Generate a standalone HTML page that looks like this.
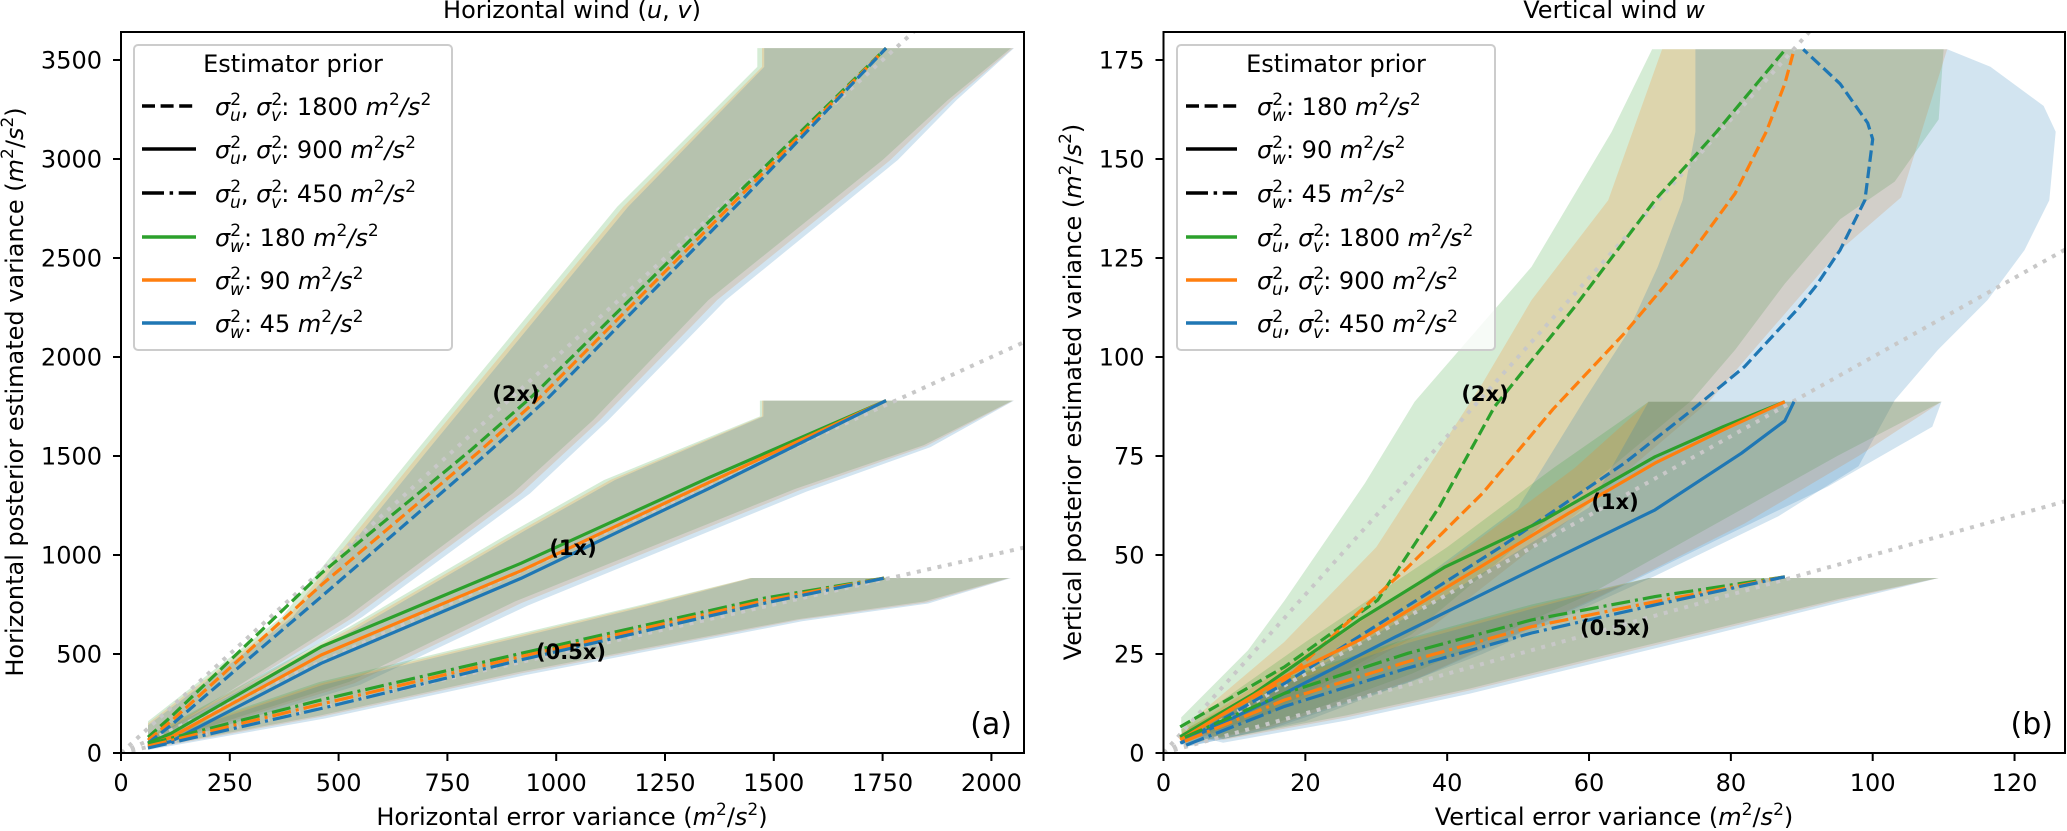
<!DOCTYPE html>
<html><head><meta charset="utf-8"><style>
html,body{margin:0;padding:0;background:#fff;}
svg{display:block;font-family:"DejaVu Sans","Liberation Sans",sans-serif;}
</style></head><body>
<svg id="fig" width="2067" height="831" viewBox="0 0 2067 831" xmlns="http://www.w3.org/2000/svg">
<defs>
<clipPath id="clipH"><rect x="121" y="32" width="903" height="721"/></clipPath>
<clipPath id="clipV"><rect x="1163.5" y="32" width="901.5" height="721"/></clipPath>
</defs>
<rect width="2067" height="831" fill="#fff"/>
<g id="plotH" clip-path="url(#clipH)"></g>
<g id="plotV" clip-path="url(#clipV)"></g>
<g id="axesH"></g>
<g id="axesV"></g>

<text x="572" y="18" font-size="24" text-anchor="middle">Horizontal wind (<tspan font-style="italic">u</tspan>, <tspan font-style="italic">v</tspan>)</text>
<text x="1614" y="18" font-size="24" text-anchor="middle">Vertical wind <tspan font-style="italic">w</tspan></text>

<text x="572" y="825" font-size="24" text-anchor="middle">Horizontal error variance (<tspan font-style="italic">m</tspan><tspan font-size="17" dy="-10">2</tspan><tspan dy="10">/</tspan><tspan font-style="italic">s</tspan><tspan font-size="17" dy="-10">2</tspan><tspan dy="10">)</tspan></text>
<text x="1614" y="825" font-size="24" text-anchor="middle">Vertical error variance (<tspan font-style="italic">m</tspan><tspan font-size="17" dy="-10">2</tspan><tspan dy="10">/</tspan><tspan font-style="italic">s</tspan><tspan font-size="17" dy="-10">2</tspan><tspan dy="10">)</tspan></text>
<text transform="translate(23,392) rotate(-90)" font-size="24" text-anchor="middle">Horizontal posterior estimated variance (<tspan font-style="italic">m</tspan><tspan font-size="17" dy="-10">2</tspan><tspan dy="10">/</tspan><tspan font-style="italic">s</tspan><tspan font-size="17" dy="-10">2</tspan><tspan dy="10">)</tspan></text>
<text transform="translate(1081,392) rotate(-90)" font-size="24" text-anchor="middle">Vertical posterior estimated variance (<tspan font-style="italic">m</tspan><tspan font-size="17" dy="-10">2</tspan><tspan dy="10">/</tspan><tspan font-style="italic">s</tspan><tspan font-size="17" dy="-10">2</tspan><tspan dy="10">)</tspan></text>

<text x="1012" y="734" font-size="30" text-anchor="end">(a)</text>
<text x="2053" y="734" font-size="30" text-anchor="end">(b)</text>

<g font-size="21" font-weight="bold" text-anchor="middle">
<text x="516" y="401">(2x)</text>
<text x="573" y="555">(1x)</text>
<text x="571" y="659">(0.5x)</text>
<text x="1485" y="401">(2x)</text>
<text x="1615" y="509">(1x)</text>
<text x="1615" y="635">(0.5x)</text>
</g>

<g>
<rect x="134" y="45" width="318" height="305" rx="4" fill="#fff" fill-opacity="0.8" stroke="#cccccc" stroke-width="2"/>
<text x="293" y="72" font-size="24" text-anchor="middle">Estimator prior</text>
<g stroke-width="3.5" fill="none">
<line x1="142" y1="106" x2="196" y2="106" stroke="#000" stroke-dasharray="13,5.6"/>
<line x1="142" y1="149" x2="196" y2="149" stroke="#000"/>
<line x1="142" y1="193" x2="196" y2="193" stroke="#000" stroke-dasharray="22,5.6,3.5,5.6"/>
<line x1="142" y1="237" x2="196" y2="237" stroke="#2ca02c"/>
<line x1="142" y1="280" x2="196" y2="280" stroke="#ff7f0e"/>
<line x1="142" y1="323" x2="196" y2="323" stroke="#1f77b4"/>
</g>
<g font-size="24">
<text x="215" y="115"><tspan font-style="italic">σ</tspan><tspan font-size="17" dy="-10">2</tspan><tspan font-size="17" font-style="italic" dx="-11" dy="16">u</tspan><tspan dy="-6">, </tspan><tspan font-style="italic">σ</tspan><tspan font-size="17" dy="-10">2</tspan><tspan font-size="17" font-style="italic" dx="-11" dy="16">v</tspan><tspan dy="-6">: 1800 </tspan><tspan font-style="italic">m</tspan><tspan font-size="17" dy="-10">2</tspan><tspan dy="10" font-style="italic">/s</tspan><tspan font-size="17" dy="-10">2</tspan></text>
<text x="215" y="158"><tspan font-style="italic">σ</tspan><tspan font-size="17" dy="-10">2</tspan><tspan font-size="17" font-style="italic" dx="-11" dy="16">u</tspan><tspan dy="-6">, </tspan><tspan font-style="italic">σ</tspan><tspan font-size="17" dy="-10">2</tspan><tspan font-size="17" font-style="italic" dx="-11" dy="16">v</tspan><tspan dy="-6">: 900 </tspan><tspan font-style="italic">m</tspan><tspan font-size="17" dy="-10">2</tspan><tspan dy="10" font-style="italic">/s</tspan><tspan font-size="17" dy="-10">2</tspan></text>
<text x="215" y="202"><tspan font-style="italic">σ</tspan><tspan font-size="17" dy="-10">2</tspan><tspan font-size="17" font-style="italic" dx="-11" dy="16">u</tspan><tspan dy="-6">, </tspan><tspan font-style="italic">σ</tspan><tspan font-size="17" dy="-10">2</tspan><tspan font-size="17" font-style="italic" dx="-11" dy="16">v</tspan><tspan dy="-6">: 450 </tspan><tspan font-style="italic">m</tspan><tspan font-size="17" dy="-10">2</tspan><tspan dy="10" font-style="italic">/s</tspan><tspan font-size="17" dy="-10">2</tspan></text>
<text x="215" y="246"><tspan font-style="italic">σ</tspan><tspan font-size="17" dy="-10">2</tspan><tspan font-size="17" font-style="italic" dx="-11" dy="16">w</tspan><tspan dy="-6">: 180 </tspan><tspan font-style="italic">m</tspan><tspan font-size="17" dy="-10">2</tspan><tspan dy="10" font-style="italic">/s</tspan><tspan font-size="17" dy="-10">2</tspan></text>
<text x="215" y="289"><tspan font-style="italic">σ</tspan><tspan font-size="17" dy="-10">2</tspan><tspan font-size="17" font-style="italic" dx="-11" dy="16">w</tspan><tspan dy="-6">: 90 </tspan><tspan font-style="italic">m</tspan><tspan font-size="17" dy="-10">2</tspan><tspan dy="10" font-style="italic">/s</tspan><tspan font-size="17" dy="-10">2</tspan></text>
<text x="215" y="332"><tspan font-style="italic">σ</tspan><tspan font-size="17" dy="-10">2</tspan><tspan font-size="17" font-style="italic" dx="-11" dy="16">w</tspan><tspan dy="-6">: 45 </tspan><tspan font-style="italic">m</tspan><tspan font-size="17" dy="-10">2</tspan><tspan dy="10" font-style="italic">/s</tspan><tspan font-size="17" dy="-10">2</tspan></text>
</g>
</g>

<g>
<rect x="1177" y="45" width="318" height="305" rx="4" fill="#fff" fill-opacity="0.8" stroke="#cccccc" stroke-width="2"/>
<text x="1336" y="72" font-size="24" text-anchor="middle">Estimator prior</text>
<g stroke-width="3.5" fill="none">
<line x1="1186" y1="106" x2="1237" y2="106" stroke="#000" stroke-dasharray="13,5.6"/>
<line x1="1186" y1="149" x2="1237" y2="149" stroke="#000"/>
<line x1="1186" y1="193" x2="1237" y2="193" stroke="#000" stroke-dasharray="22,5.6,3.5,5.6"/>
<line x1="1186" y1="237" x2="1237" y2="237" stroke="#2ca02c"/>
<line x1="1186" y1="280" x2="1237" y2="280" stroke="#ff7f0e"/>
<line x1="1186" y1="323" x2="1237" y2="323" stroke="#1f77b4"/>
</g>
<g font-size="24">
<text x="1257" y="115"><tspan font-style="italic">σ</tspan><tspan font-size="17" dy="-10">2</tspan><tspan font-size="17" font-style="italic" dx="-11" dy="16">w</tspan><tspan dy="-6">: 180 </tspan><tspan font-style="italic">m</tspan><tspan font-size="17" dy="-10">2</tspan><tspan dy="10" font-style="italic">/s</tspan><tspan font-size="17" dy="-10">2</tspan></text>
<text x="1257" y="158"><tspan font-style="italic">σ</tspan><tspan font-size="17" dy="-10">2</tspan><tspan font-size="17" font-style="italic" dx="-11" dy="16">w</tspan><tspan dy="-6">: 90 </tspan><tspan font-style="italic">m</tspan><tspan font-size="17" dy="-10">2</tspan><tspan dy="10" font-style="italic">/s</tspan><tspan font-size="17" dy="-10">2</tspan></text>
<text x="1257" y="202"><tspan font-style="italic">σ</tspan><tspan font-size="17" dy="-10">2</tspan><tspan font-size="17" font-style="italic" dx="-11" dy="16">w</tspan><tspan dy="-6">: 45 </tspan><tspan font-style="italic">m</tspan><tspan font-size="17" dy="-10">2</tspan><tspan dy="10" font-style="italic">/s</tspan><tspan font-size="17" dy="-10">2</tspan></text>
<text x="1257" y="246"><tspan font-style="italic">σ</tspan><tspan font-size="17" dy="-10">2</tspan><tspan font-size="17" font-style="italic" dx="-11" dy="16">u</tspan><tspan dy="-6">, </tspan><tspan font-style="italic">σ</tspan><tspan font-size="17" dy="-10">2</tspan><tspan font-size="17" font-style="italic" dx="-11" dy="16">v</tspan><tspan dy="-6">: 1800 </tspan><tspan font-style="italic">m</tspan><tspan font-size="17" dy="-10">2</tspan><tspan dy="10" font-style="italic">/s</tspan><tspan font-size="17" dy="-10">2</tspan></text>
<text x="1257" y="289"><tspan font-style="italic">σ</tspan><tspan font-size="17" dy="-10">2</tspan><tspan font-size="17" font-style="italic" dx="-11" dy="16">u</tspan><tspan dy="-6">, </tspan><tspan font-style="italic">σ</tspan><tspan font-size="17" dy="-10">2</tspan><tspan font-size="17" font-style="italic" dx="-11" dy="16">v</tspan><tspan dy="-6">: 900 </tspan><tspan font-style="italic">m</tspan><tspan font-size="17" dy="-10">2</tspan><tspan dy="10" font-style="italic">/s</tspan><tspan font-size="17" dy="-10">2</tspan></text>
<text x="1257" y="332"><tspan font-style="italic">σ</tspan><tspan font-size="17" dy="-10">2</tspan><tspan font-size="17" font-style="italic" dx="-11" dy="16">u</tspan><tspan dy="-6">, </tspan><tspan font-style="italic">σ</tspan><tspan font-size="17" dy="-10">2</tspan><tspan font-size="17" font-style="italic" dx="-11" dy="16">v</tspan><tspan dy="-6">: 450 </tspan><tspan font-style="italic">m</tspan><tspan font-size="17" dy="-10">2</tspan><tspan dy="10" font-style="italic">/s</tspan><tspan font-size="17" dy="-10">2</tspan></text>
</g>
</g>
</svg>
<script>
const hXTicks = [0,250,500,750,1000,1250,1500,1750,2000];
const hYTicks = [0,500,1000,1500,2000,2500,3000,3500];
const vXTicks = [0,20,40,60,80,100,120];
const vYTicks = [0,25,50,75,100,125,150,175];
const refSlopes = [2,1,0.5];

// horizontal lines
const h2xGreen = [[62,80],[115,183],[460,907],[804,1530],[944,1800],[1400,2790],[1758,3560]];
const h2xOrange = [[62,65],[115,160],[460,848],[827,1530],[962,1795],[1415,2795],[1758,3560]];
const h2xBlue = [[62,50],[115,140],[460,789],[850,1530],[980,1790],[1430,2800],[1758,3560]];
const h1xGreen = [[62,50],[115,99],[460,537],[919,958],[1350,1390],[1758,1780]];
const h1xOrange = [[62,40],[115,80],[460,495],[919,920],[1350,1365],[1758,1780]];
const h1xBlue = [[62,30],[115,58],[460,453],[919,882],[1350,1335],[1758,1780]];
const h05Green = [[62,45],[460,268],[919,503],[1480,783],[1758,885]];
const h05Orange = [[62,35],[460,247],[919,487],[1480,770],[1758,885]];
const h05Blue = [[62,25],[460,225],[919,470],[1480,757],[1758,885]];

// horizontal bands
const h2xBandGreenUp = [[62,160],[370,688],[680,1530],[1140,2758],[1462,3465],[1462,3560]];
const h2xBandGreenLo = [[62,50],[520,688],[900,1311],[1085,1682],[1350,2288],[1750,2995],[1900,3298],[2045,3560]];
const h2xBandOrangeUp = [[62,150],[383,688],[693,1530],[1154,2758],[1473,3465],[1473,3560]];
const h2xBandOrangeLo = [[62,40],[536,688],[919,1311],[1101,1682],[1370,2288],[1768,2995],[1910,3298],[2050,3560]];
const h2xBandBlueUp = [[62,140],[395,688],[705,1530],[1165,2758],[1478,3465],[1478,3560]];
const h2xBandBlueLo = [[62,30],[555,688],[940,1311],[1120,1682],[1390,2288],[1785,2995],[1920,3298],[2052,3560]];
const h1xBandGreenUp = [[62,85],[525,638],[905,1126],[1110,1379],[1468,1700],[1468,1780]];
const h1xBandGreenLo = [[62,35],[525,360],[905,765],[1550,1335],[1845,1555],[2048,1780]];
const h1xBandOrangeUp = [[62,80],[536,638],[919,1126],[1124,1379],[1473,1700],[1473,1780]];
const h1xBandOrangeLo = [[62,30],[536,352],[919,756],[1560,1328],[1850,1550],[2050,1780]];
const h1xBandBlueUp = [[62,70],[548,638],[930,1126],[1135,1379],[1476,1700],[1476,1780]];
const h1xBandBlueLo = [[62,20],[550,345],[935,745],[1575,1320],[1860,1545],[2052,1780]];
const h05BandGreenUp = [[62,65],[455,358],[910,600],[1195,748],[1446,884]];
const h05BandGreenLo = [[62,25],[455,188],[910,407],[1555,676],[1845,765],[2040,884]];
const h05BandOrangeUp = [[62,60],[460,352],[919,596],[1200,745],[1446,884]];
const h05BandOrangeLo = [[62,20],[460,183],[919,402],[1560,672],[1850,760],[2043,884]];
const h05BandBlueUp = [[62,55],[465,345],[925,590],[1205,740],[1450,884]];
const h05BandBlueLo = [[62,15],[470,175],[930,394],[1565,665],[1855,755],[2045,884]];

// vertical lines
const v2xGreen = [[2.35,6.6],[17.1,21.8],[30.2,38.6],[38.9,62.2],[46.7,87.5],[58,112.7],[69.3,139.6],[78,156.9],[87.6,177.5]];
const v2xOrange = [[2.35,3.8],[17.1,18.4],[34.5,47],[45,65.6],[54.9,86.8],[65,106],[73.7,124.5],[80.6,141.3],[85,156.9],[87.6,169],[88.9,177.5]];
const v2xBlue = [[2.5,2.5],[17.1,17.6],[32.8,35.3],[47.6,52.1],[65,73.2],[74.5,86.6],[81.9,97.5],[89.3,111.9],[91.9,117.7],[95.4,127],[98.9,139.6],[100,155],[99.3,159.1],[95.4,169],[90.2,177.7]];
const v1xGreen = [[2.35,4.1],[12.8,15.1],[27.6,33.6],[39.7,47],[53.6,58.8],[69.3,74.8],[78.9,82.4],[87.6,88.7]];
const v1xOrange = [[2.35,3.3],[17.1,19.3],[27.6,28.5],[43.2,45.4],[57.1,60.5],[69.3,73.2],[78.9,81.6],[87.6,88.7]];
const v1xBlue = [[2.35,2.5],[17.1,15.1],[32.8,29.4],[51.9,46.2],[69.3,61.4],[81.5,75.7],[87.6,83.9],[88.9,88.7]];
const v05Green = [[3,4],[17.1,15.1],[34.5,25.2],[51.9,33.6],[69.3,39.5],[87.6,44.5]];
const v05Orange = [[3,3],[17.1,13.4],[34.5,23.1],[51.9,31.9],[69.3,38.2],[87.6,44.5]];
const v05Blue = [[3.2,2],[17.1,11.8],[34.5,21.5],[51.9,30.3],[69.3,37.4],[87.6,44.5]];

// vertical bands
const v2xBandGreenUp = [[2.5,9],[11.9,25.9],[17.1,38.6],[28.4,68.1],[35.4,88.7],[51.9,122.8],[63.2,156.9],[68.9,177.7]];
const v2xBandGreenLo = [[2.5,3],[15,10],[35,30],[55,60],[74.5,89.1],[80.6,101.8],[87.6,118.5],[95.4,134.8],[103.1,144.3],[109.3,160],[110,177.7]];
const v2xBandOrangeUp = [[2.5,6],[17,28],[30,52],[45,93.4],[51.9,114.4],[62.7,139.6],[70.3,177.7]];
const v2xBandOrangeLo = [[3,2.5],[18,12],[38,32],[58,60],[77.1,89.1],[83.2,101.8],[89.3,114.4],[95.4,127],[104,140.3],[110.5,177.7]];
const v2xBandBlueUp = [[2.5,4],[17,20],[35,42],[50,62],[59.3,89.1],[65.4,106],[69.7,122.8],[73.2,139.6],[75,156.9],[75,177.7]];
const v2xBandBlueLo = [[3,1.5],[20,8],[45,25],[69.3,44.7],[86.7,59.8],[98,72.4],[103.1,89.1],[109.2,101.8],[116.2,114.4],[121.4,127],[124.9,139.6],[125.8,156.9],[124.1,163.4],[116.6,173.3],[110.5,177.7]];
const v1xBandGreenUp = [[2.5,6],[20,28],[40,52],[55,72],[68.4,88.7]];
const v1xBandGreenLo = [[3,2],[15,7],[35,20],[60,40],[80,60],[95,75],[109.7,88.7]];
const v1xBandOrangeUp = [[2.5,5],[20,25],[40,48],[58,72],[68.4,88.7]];
const v1xBandOrangeLo = [[3,2],[15,6.5],[36,19],[62,40],[82,58],[98,75],[109.7,88.7]];
const v1xBandBlueUp = [[2.5,3],[20,20],[40,40],[60,62],[68.4,88.7]];
const v1xBandBlueLo = [[3,1.5],[15,6],[35,18],[60,38],[78,53.8],[93.7,67.3],[108.4,82.4],[109.7,88.7]];
const v05BandGreenUp = [[3.2,6.2],[17.1,19],[34.5,29],[51.9,37.5],[68.4,44.2]];
const v05BandGreenLo = [[8.4,3.6],[25.8,9.5],[43.2,16.3],[60.6,24],[78,31.5],[95.4,39],[109.3,44.2]];
const v05BandOrangeUp = [[3.2,5.8],[17.1,18.5],[34.5,28.6],[51.9,37],[68.4,44.2]];
const v05BandOrangeLo = [[8.4,3.3],[25.8,9],[43.2,15.8],[60.6,23.4],[78,31],[95.4,38.6],[109.3,44.2]];
const v05BandBlueUp = [[3.2,5],[17.1,17.5],[34.5,27.8],[51.9,36.4],[68.4,44.2]];
const v05BandBlueLo = [[8.4,2.6],[25.8,8.2],[43.2,15],[60.6,22.6],[78,30.2],[95.4,38],[109.3,44.2]];

const NS = "http://www.w3.org/2000/svg";
const GREEN = "#2ca02c", ORANGE = "#ff7f0e", BLUE = "#1f77b4";
const hx = x => 121 + x * 0.4352;
const hy = y => 753 - y * 0.198;
const vx = x => 1163.5 + x * 7.092;
const vy = y => 753 - y * 3.96;

function mk(tag, attrs, parent) {
  const e = document.createElementNS(NS, tag);
  for (const k in attrs) e.setAttribute(k, attrs[k]);
  parent.appendChild(e);
  return e;
}
function pts(arr, fx, fy) { return arr.map(p => fx(p[0]).toFixed(1) + "," + fy(p[1]).toFixed(1)).join(" "); }
function band(parent, up, lo, color, fx, fy, name) {
  const poly = up.concat(lo.slice().reverse());
  const e = mk("polygon", {points: pts(poly, fx, fy), fill: color, "fill-opacity": 0.2, stroke: "none"}, parent);
  
  
}
function line(parent, arr, color, dash, fx, fy, name) {
  const a = {points: pts(arr, fx, fy), fill: "none", stroke: color, "stroke-width": 3.2, "stroke-linejoin": "round"};
  if (dash) a["stroke-dasharray"] = dash;
  const e = mk("polyline", a, parent);
  
  
}
function refLines(parent, fx, fy, xmax) {
  refSlopes.forEach(k => {
    const e = mk("line", {x1: fx(0), y1: fy(0), x2: fx(xmax), y2: fy(k * xmax), stroke: "#c8c8c8", "stroke-width": 4, "stroke-dasharray": "4,6.6"}, parent);
    
    
  });
}
const DASH = "11.5,5", DASHDOT = "19,5,3,5";

const pH = document.getElementById("plotH");
band(pH, h2xBandGreenUp, h2xBandGreenLo, GREEN, hx, hy, "band-2x-green");
band(pH, h2xBandOrangeUp, h2xBandOrangeLo, ORANGE, hx, hy, "band-2x-orange");
band(pH, h2xBandBlueUp, h2xBandBlueLo, BLUE, hx, hy, "band-2x-blue");
band(pH, h1xBandGreenUp, h1xBandGreenLo, GREEN, hx, hy, "band-1x-green");
band(pH, h1xBandOrangeUp, h1xBandOrangeLo, ORANGE, hx, hy, "band-1x-orange");
band(pH, h1xBandBlueUp, h1xBandBlueLo, BLUE, hx, hy, "band-1x-blue");
band(pH, h05BandGreenUp, h05BandGreenLo, GREEN, hx, hy, "band-05x-green");
band(pH, h05BandOrangeUp, h05BandOrangeLo, ORANGE, hx, hy, "band-05x-orange");
band(pH, h05BandBlueUp, h05BandBlueLo, BLUE, hx, hy, "band-05x-blue");
refLines(pH, hx, hy, 2200);
line(pH, h2xGreen, GREEN, DASH, hx, hy, "line-2x-green");
line(pH, h2xOrange, ORANGE, DASH, hx, hy, "line-2x-orange");
line(pH, h2xBlue, BLUE, DASH, hx, hy, "line-2x-blue");
line(pH, h1xGreen, GREEN, null, hx, hy, "line-1x-green");
line(pH, h1xOrange, ORANGE, null, hx, hy, "line-1x-orange");
line(pH, h1xBlue, BLUE, null, hx, hy, "line-1x-blue");
line(pH, h05Green, GREEN, DASHDOT, hx, hy, "line-05x-green");
line(pH, h05Orange, ORANGE, DASHDOT, hx, hy, "line-05x-orange");
line(pH, h05Blue, BLUE, DASHDOT, hx, hy, "line-05x-blue");

const pV = document.getElementById("plotV");
band(pV, v2xBandGreenUp, v2xBandGreenLo, GREEN, vx, vy, "band-2x-green");
band(pV, v2xBandOrangeUp, v2xBandOrangeLo, ORANGE, vx, vy, "band-2x-orange");
band(pV, v2xBandBlueUp, v2xBandBlueLo, BLUE, vx, vy, "band-2x-blue");
band(pV, v1xBandGreenUp, v1xBandGreenLo, GREEN, vx, vy, "band-1x-green");
band(pV, v1xBandOrangeUp, v1xBandOrangeLo, ORANGE, vx, vy, "band-1x-orange");
band(pV, v1xBandBlueUp, v1xBandBlueLo, BLUE, vx, vy, "band-1x-blue");
band(pV, v05BandGreenUp, v05BandGreenLo, GREEN, vx, vy, "band-05x-green");
band(pV, v05BandOrangeUp, v05BandOrangeLo, ORANGE, vx, vy, "band-05x-orange");
band(pV, v05BandBlueUp, v05BandBlueLo, BLUE, vx, vy, "band-05x-blue");
refLines(pV, vx, vy, 130);
line(pV, v2xGreen, GREEN, DASH, vx, vy, "line-2x-green");
line(pV, v2xOrange, ORANGE, DASH, vx, vy, "line-2x-orange");
line(pV, v2xBlue, BLUE, DASH, vx, vy, "line-2x-blue");
line(pV, v1xGreen, GREEN, null, vx, vy, "line-1x-green");
line(pV, v1xOrange, ORANGE, null, vx, vy, "line-1x-orange");
line(pV, v1xBlue, BLUE, null, vx, vy, "line-1x-blue");
line(pV, v05Green, GREEN, DASHDOT, vx, vy, "line-05x-green");
line(pV, v05Orange, ORANGE, DASHDOT, vx, vy, "line-05x-orange");
line(pV, v05Blue, BLUE, DASHDOT, vx, vy, "line-05x-blue");

function axes(g, x0, x1, y0, y1, xt, yt, fx, fy) {
  const fr = mk("rect", {x: x0, y: y0, width: x1 - x0, height: y1 - y0, fill: "none", stroke: "#000", "stroke-width": 2}, g);
  
  
  xt.forEach(v => {
    const X = fx(v);
    const t = mk("line", {x1: X, y1: y1, x2: X, y2: y1 + 8, stroke: "#000", "stroke-width": 2}, g);
    
    
    const l = mk("text", {x: X, y: 791, "font-size": 24, "text-anchor": "middle"}, g);
    l.textContent = String(v);
    
    
  });
  yt.forEach(v => {
    const Y = fy(v);
    const t = mk("line", {x1: x0 - 8, y1: Y, x2: x0, y2: Y, stroke: "#000", "stroke-width": 2}, g);
    
    
    const l = mk("text", {x: x0 - 19, y: Y + 8.7, "font-size": 24, "text-anchor": "end"}, g);
    l.textContent = String(v);
    
    
  });
}
axes(document.getElementById("axesH"), 121, 1024, 32, 753, hXTicks, hYTicks, hx, hy);
axes(document.getElementById("axesV"), 1163.5, 2065, 32, 753, vXTicks, vYTicks, vx, vy);
</script>
</body></html>
